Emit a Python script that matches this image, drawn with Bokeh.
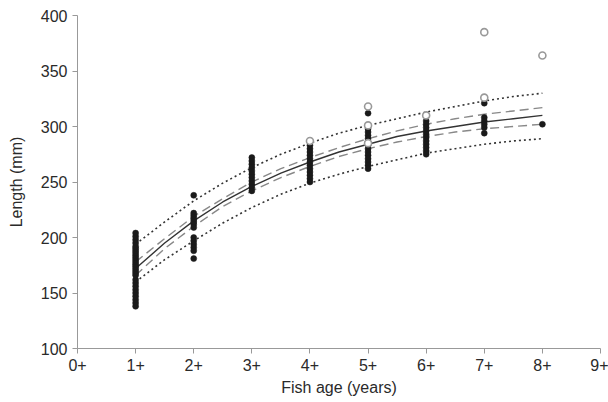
from bokeh.plotting import figure
from bokeh.models import FixedTicker, Range1d
from bokeh.embed import file_html
from bokeh.resources import INLINE

# ---- data ----
age_ticks = [0, 1, 2, 3, 4, 5, 6, 7, 8, 9]
age_tick_labels = ["0+", "1+", "2+", "3+", "4+", "5+", "6+", "7+", "8+", "9+"]
length_ticks = [100, 150, 200, 250, 300, 350, 400]

# observed lengths (filled) by age
len_age1 = [138, 141, 144, 147, 150, 153, 156, 159, 162, 166, 168, 170, 172, 174,
            176, 178, 180, 182, 184, 186, 188, 190, 192, 195, 198, 201, 204]
len_age2 = [238, 222, 220, 218, 216, 214, 212, 209, 200, 197, 194, 191, 188, 181]
len_age3 = [272, 269, 266, 263, 260, 257, 254, 251, 248, 245, 242]
len_age4 = [283, 280, 277, 274, 271, 268, 265, 262, 259, 256, 253, 250]
len_age5 = [312, 298, 295, 292, 289, 286, 283, 280, 277, 274, 271, 268, 265, 262]
len_age6 = [305, 302, 299, 296, 293, 290, 287, 284, 281, 278, 275]
len_age7 = [321, 308, 305, 302, 299, 294]
len_age8 = [302]

# open (outlier) points
open_age = [4, 5, 5, 5, 6, 7, 7, 8]
open_len = [287, 318, 301, 285, 310, 385, 326, 364]

# growth curve and bands, read at half-year steps
curve_age = [1, 1.5, 2, 2.5, 3, 3.5, 4, 4.5, 5, 5.5, 6, 6.5, 7, 7.5, 8]
fit_len = [172, 195, 215, 232, 246, 258, 268, 277, 284, 291, 296, 300, 304, 307, 310]
ci_upper = [178, 199, 219, 235, 250, 262, 272, 281, 289, 296, 302, 307, 311, 314, 317]
ci_lower = [166, 190, 210, 228, 242, 254, 264, 273, 280, 286, 291, 295, 298, 300, 302]
pi_upper = [194, 214, 233, 249, 263, 275, 285, 294, 301, 307, 313, 318, 323, 327, 330]
pi_lower = [160, 180, 197, 213, 227, 239, 249, 257, 264, 270, 276, 280, 284, 287, 289]

FONT = "Liberation Sans"

p = figure(width=608, height=402, output_backend="svg", toolbar_location=None,
           x_range=Range1d(0, 9), y_range=Range1d(100, 400),
           min_border_left=77, min_border_right=8, min_border_top=15, min_border_bottom=54)
p.outline_line_color = None
p.xgrid.visible = False
p.ygrid.visible = False
p.background_fill_color = "white"
p.border_fill_color = "white"

# bands and curve
p.line(curve_age, pi_upper, line_color="#333333", line_width=1.6, line_dash="2 3")
p.line(curve_age, pi_lower, line_color="#333333", line_width=1.6, line_dash="2 3")
p.line(curve_age, ci_upper, line_color="#888888", line_width=1.4, line_dash="9 5")
p.line(curve_age, ci_lower, line_color="#888888", line_width=1.4, line_dash="9 5")
p.line(curve_age, fit_len, line_color="#333333", line_width=1.4)

groups = [(1, len_age1), (2, len_age2), (3, len_age3), (4, len_age4),
          (5, len_age5), (6, len_age6), (7, len_age7), (8, len_age8)]
xs, ys = [], []
for a, vals in groups:
    xs += [a] * len(vals)
    ys += vals
p.scatter(xs, ys, size=6, fill_color="#1a1a1a", line_color="#1a1a1a", line_width=0.5)
p.scatter(open_age, open_len, size=7, fill_color="white", line_color="#999999", line_width=1.6)

# axes
for ax in (p.xaxis, p.yaxis):
    ax.axis_line_color = "#999999"
    ax.major_tick_line_color = "#999999"
    ax.minor_tick_line_color = None
    ax.major_tick_in = 0
    ax.major_tick_out = 5
    ax.major_label_text_font = FONT
    ax.major_label_text_font_size = "16px"
    ax.major_label_text_color = "#2a2a2a"
    ax.axis_label_text_font = FONT
    ax.axis_label_text_font_size = "16px"
    ax.axis_label_text_font_style = "normal"
    ax.axis_label_text_color = "#2a2a2a"

p.xaxis.ticker = FixedTicker(ticks=age_ticks)
p.xaxis.major_label_overrides = {t: l for t, l in zip(age_ticks, age_tick_labels)}
p.xaxis.axis_label = "Fish age (years)"
p.xaxis.major_label_standoff = 5
p.xaxis.axis_label_standoff = 5

p.yaxis.ticker = FixedTicker(ticks=length_ticks)
p.yaxis.axis_label = "Length (mm)"
p.yaxis.major_label_standoff = 5
p.yaxis.axis_label_standoff = 13

open("out.html", "w").write(file_html(p, INLINE))
